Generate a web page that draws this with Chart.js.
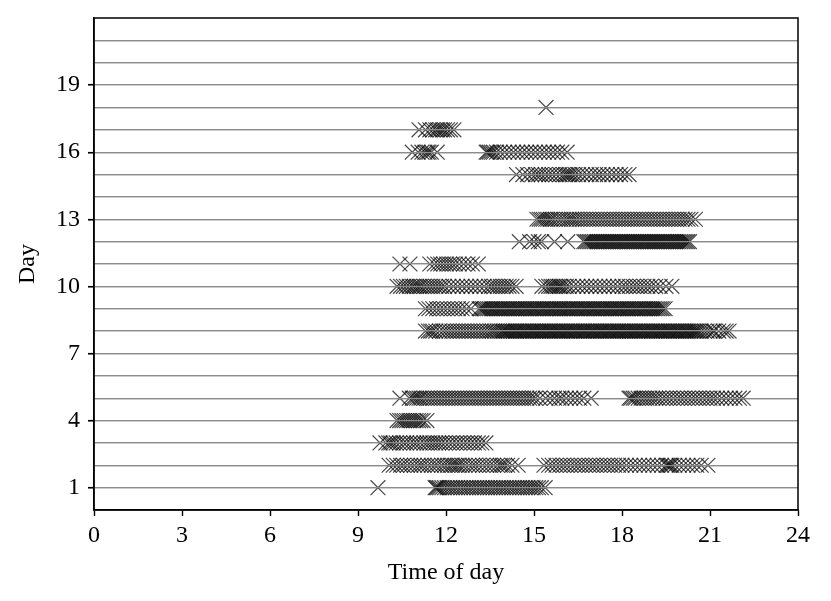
<!DOCTYPE html>
<html>
<head>
<meta charset="utf-8">
<script src="https://cdn.jsdelivr.net/npm/chart.js@4"></script>
<style>
  body { margin: 0; background: #fff; }
  canvas { display: block; }
</style>
</head>
<body>
<canvas id="myChart" width="831" height="601"></canvas>
<script>
// Datos: hora del día de cada registro, una lista por día
const day1 = [9.68, 11.63, 11.67, 11.72, 11.78, 11.86, 11.95, 12.04, 12.13, 12.22, 12.31, 12.4, 12.5, 12.59, 12.68, 12.77, 12.86, 12.95, 13.05, 13.14, 13.23, 13.32, 13.41, 13.5, 13.6, 13.69, 13.78, 13.87, 13.96, 14.05, 14.15, 14.24, 14.33, 14.42, 14.51, 14.6, 14.7, 14.79, 14.88, 14.97, 15.06, 15.15, 15.25, 15.38];
const day2 = [10.06, 10.2, 10.32, 10.45, 10.55, 10.68, 10.8, 10.92, 11.05, 11.15, 11.25, 11.38, 11.5, 11.62, 11.72, 11.85, 11.95, 12.05, 12.15, 12.22, 12.3, 12.38, 12.45, 12.55, 12.65, 12.78, 12.9, 13.0, 13.12, 13.25, 13.38, 13.5, 13.62, 13.75, 13.85, 13.92, 14.0, 14.1, 14.25, 14.46,
  15.34, 15.5, 15.62, 15.75, 15.88, 16.0, 16.12, 16.25, 16.38, 16.5, 16.62, 16.75, 16.88, 17.0, 17.12, 17.25, 17.38, 17.5, 17.62, 17.75, 17.88, 18.0, 18.15, 18.3, 18.45, 18.6, 18.75, 18.9, 19.05, 19.2, 19.35, 19.5, 19.55, 19.6, 19.65, 19.7, 19.8, 19.95, 20.1, 20.25, 20.4, 20.55, 20.7, 20.93];
const day3 = [9.75, 9.95, 10.05, 10.12, 10.2, 10.3, 10.42, 10.55, 10.65, 10.78, 10.9, 11.0, 11.12, 11.25, 11.35, 11.45, 11.55, 11.65, 11.75, 11.85, 11.97, 12.1, 12.22, 12.35, 12.47, 12.6, 12.72, 12.85, 12.97, 13.1, 13.22, 13.36];
const day4 = [10.33, 10.42, 10.5, 10.58, 10.66, 10.74, 10.82, 10.9, 10.98, 11.06, 11.14, 11.22, 11.35];
const day5 = [10.43, 10.75, 10.85, 10.92, 11.0, 11.08, 11.15, 11.25, 11.35, 11.45, 11.55, 11.65, 11.75, 11.85, 11.95, 12.05, 12.15, 12.25, 12.35, 12.45, 12.55, 12.65, 12.75, 12.85, 12.95, 13.05, 13.15, 13.25, 13.35, 13.45, 13.55, 13.65, 13.75, 13.85, 13.95, 14.05, 14.15, 14.25, 14.35, 14.45, 14.55, 14.65, 14.75, 14.85, 14.95, 15.05, 15.2, 15.4, 15.55, 15.7, 15.85, 15.95, 16.1, 16.25, 16.4, 16.55, 16.7, 16.95,
  18.24, 18.3, 18.38, 18.45, 18.55, 18.65, 18.75, 18.85, 18.95, 19.05, 19.15, 19.25, 19.38, 19.5, 19.62, 19.75, 19.88, 20.0, 20.12, 20.25, 20.38, 20.5, 20.62, 20.75, 20.88, 21.0, 21.12, 21.25, 21.4, 21.55, 21.7, 21.85, 22.0, 22.13];
const day8 = [11.3, 11.4, 11.48, 11.55, 11.65, 11.78, 11.9, 12.0, 12.1, 12.2, 12.3, 12.4, 12.5, 12.6, 12.7, 12.8, 12.9, 13.0, 13.1, 13.2, 13.3, 13.4, 13.5, 13.58, 13.66, 13.74, 13.82, 13.9,
  13.95, 14.01, 14.07, 14.12, 14.18, 14.24, 14.3, 14.36, 14.41, 14.47, 14.53, 14.59, 14.65, 14.7, 14.76, 14.82, 14.88, 14.94, 14.99, 15.05, 15.11, 15.17, 15.23, 15.28, 15.34, 15.4, 15.46, 15.52, 15.57, 15.63, 15.69, 15.75, 15.81, 15.86, 15.92, 15.98, 16.04, 16.1, 16.15, 16.21, 16.27, 16.33, 16.39, 16.44, 16.5, 16.56, 16.62, 16.68, 16.73, 16.79, 16.85, 16.91, 16.97, 17.02, 17.08, 17.14, 17.2, 17.26, 17.31, 17.37, 17.43, 17.49, 17.55, 17.6, 17.66, 17.72, 17.78, 17.84, 17.89, 17.95, 18.01, 18.07, 18.13, 18.18, 18.24, 18.3, 18.36, 18.42, 18.47, 18.53, 18.59, 18.65, 18.71, 18.76, 18.82, 18.88, 18.94, 19.0, 19.05, 19.11, 19.17, 19.23, 19.29, 19.34, 19.4, 19.46, 19.52, 19.58, 19.63, 19.69, 19.75, 19.81, 19.87, 19.92, 19.98, 20.04, 20.1, 20.16, 20.21, 20.27, 20.33, 20.39, 20.45, 20.5, 20.56, 20.62, 20.7,
  20.8, 20.9, 21.0, 21.1, 21.15, 21.3, 21.45, 21.55, 21.65];
const day9 = [11.3, 11.42, 11.55, 11.68, 11.8, 11.92, 12.05, 12.18, 12.3, 12.42, 12.55, 12.7, 12.85,
  13.13, 13.19, 13.25, 13.3, 13.36, 13.42, 13.48, 13.54, 13.59, 13.65, 13.71, 13.77, 13.83, 13.88, 13.94, 14.0, 14.06, 14.12, 14.17, 14.23, 14.29, 14.35, 14.41, 14.46, 14.52, 14.58, 14.64, 14.7, 14.75, 14.81, 14.87, 14.93, 14.99, 15.04, 15.1, 15.16, 15.22, 15.28, 15.33, 15.39, 15.45, 15.51, 15.57, 15.62, 15.68, 15.74, 15.8, 15.86, 15.91, 15.97, 16.03, 16.09, 16.15, 16.2, 16.26, 16.32, 16.38, 16.44, 16.49, 16.55, 16.61, 16.67, 16.73, 16.78, 16.84, 16.9, 16.96, 17.02, 17.07, 17.13, 17.19, 17.25, 17.31, 17.36, 17.42, 17.48, 17.54, 17.6, 17.65, 17.71, 17.77, 17.83, 17.89, 17.94, 18.0, 18.06, 18.12, 18.18, 18.23, 18.29, 18.35, 18.41, 18.47, 18.52, 18.58, 18.64, 18.7, 18.76, 18.81, 18.87, 18.93, 18.99, 19.05, 19.1, 19.16, 19.22, 19.28, 19.34, 19.4, 19.47];
const day10 = [10.33, 10.45, 10.55, 10.65, 10.75, 10.85, 10.92, 11.0, 11.08, 11.15, 11.25, 11.35, 11.45, 11.55, 11.65, 11.75, 11.85, 11.95, 12.1, 12.25, 12.4, 12.55, 12.7, 12.85, 13.0, 13.15, 13.3, 13.45, 13.55, 13.65, 13.75, 13.85, 13.95, 14.05, 14.15, 14.25, 14.39,
  15.27, 15.4, 15.5, 15.58, 15.65, 15.72, 15.8, 15.86, 15.92, 16.0, 16.1, 16.2, 16.35, 16.5, 16.65, 16.8, 16.95, 17.1, 17.25, 17.4, 17.55, 17.7, 17.85, 18.0, 18.12, 18.25, 18.38, 18.5, 18.62, 18.75, 18.88, 19.0, 19.15, 19.3, 19.5, 19.7];
const day11 = [10.43, 10.77, 11.45, 11.6, 11.72, 11.82, 11.92, 12.02, 12.12, 12.22, 12.32, 12.45, 12.6, 12.75, 12.9, 13.1];
const day12 = [14.5, 14.85, 15.0, 15.15, 15.25, 15.7, 16.15,
  16.7, 16.76, 16.82, 16.88, 16.94, 17.0, 17.06, 17.12, 17.18, 17.24, 17.3, 17.36, 17.42, 17.48, 17.54, 17.6, 17.66, 17.72, 17.78, 17.84, 17.9, 17.96, 18.02, 18.08, 18.14, 18.2, 18.26, 18.32, 18.38, 18.44, 18.5, 18.56, 18.62, 18.68, 18.74, 18.8, 18.86, 18.92, 18.98, 19.04, 19.1, 19.16, 19.22, 19.28, 19.34, 19.4, 19.46, 19.52, 19.58, 19.64, 19.7, 19.76, 19.82, 19.88, 19.94, 20.0, 20.06, 20.12, 20.18, 20.24, 20.3];
const day13 = [15.1, 15.18, 15.25, 15.32, 15.4, 15.47, 15.55, 15.62, 15.72, 15.82, 15.92, 16.02, 16.12, 16.2, 16.28, 16.36, 16.45, 16.55, 16.65, 16.75, 16.85, 16.95, 17.05, 17.15, 17.25, 17.35, 17.45, 17.55, 17.65, 17.75, 17.85, 17.95, 18.05, 18.15, 18.25, 18.35, 18.45, 18.55, 18.65, 18.75, 18.85, 18.95, 19.05, 19.15, 19.25, 19.35, 19.45, 19.55, 19.65, 19.75, 19.85, 19.95, 20.05, 20.15, 20.25, 20.35, 20.5];
const day15 = [14.4, 14.62, 14.78, 14.92, 15.05, 15.15, 15.25, 15.38, 15.5, 15.62, 15.75, 15.88, 16.0, 16.08, 16.15, 16.22, 16.3, 16.4, 16.52, 16.65, 16.8, 16.95, 17.1, 17.22, 17.35, 17.5, 17.65, 17.8, 17.95, 18.1, 18.24];
const day16 = [10.85, 11.05, 11.18, 11.28, 11.36, 11.42, 11.5, 11.7,
  13.37, 13.42, 13.48, 13.55, 13.62, 13.72, 13.85, 14.0, 14.15, 14.3, 14.45, 14.6, 14.75, 14.9, 15.05, 15.2, 15.35, 15.5, 15.65, 15.8, 15.95, 16.13];
const day17 = [11.08, 11.3, 11.45, 11.55, 11.65, 11.72, 11.8, 11.88, 11.95, 12.05, 12.15, 12.27];
const day18 = [15.41];

const days = [1, 2, 3, 4, 5, 8, 9, 10, 11, 12, 13, 15, 16, 17, 18];
const times = [day1, day2, day3, day4, day5, day8, day9, day10, day11, day12, day13, day15, day16, day17, day18];
const xTicks = [0, 3, 6, 9, 12, 15, 18, 21, 24];
const yTickLabels = [1, 4, 7, 10, 13, 16, 19];

const serif = "'Liberation Serif', 'Times New Roman', serif";

// un dataset por día
const datasets = days.map((d, i) => ({
    data: times[i].map(t => ({ x: t, y: d })),
    pointStyle: 'crossRot',
    pointRadius: 10.5,
    pointBorderWidth: 1.2,
    pointBorderColor: 'rgba(0,0,0,0.72)',
    pointBackgroundColor: 'rgba(0,0,0,0)',
    showLine: false
}));

// lineas de la grilla encima de los puntos y marco completo
const framePlugin = {
    id: 'frame',
    afterDatasetsDraw(chart) {
        chart.scales.y.drawGrid(chart.chartArea);
    },
    afterDraw(chart) {
        const a = chart.chartArea;
        const c = chart.ctx;
        c.save();
        c.strokeStyle = '#000';
        c.lineWidth = 1.5;
        c.strokeRect(a.left, a.top, a.right - a.left, a.bottom - a.top);
        c.restore();
    }
};

const chartDOM = document.getElementById("myChart");
window.grafica = new Chart(chartDOM, {
    type: 'scatter',
    data: { datasets: datasets },
    options: {
        responsive: false,
        animation: false,
        layout: { padding: { left: 0, top: 18, right: 33, bottom: 0 } },
        plugins: { legend: { display: false }, tooltip: { enabled: false } },
        scales: {
            x: {
                type: 'linear', min: 0, max: 24,
                afterBuildTicks: s => { s.ticks = xTicks.map(v => ({ value: v })); },
                ticks: { color: '#000', padding: 5, font: { family: serif, size: 24 } },
                grid: { drawOnChartArea: false, tickLength: 6, tickColor: '#000', tickWidth: 1.4 },
                border: { color: '#000', width: 1.5 },
                title: { display: true, text: 'Time of day', color: '#000', font: { family: serif, size: 24 }, padding: { top: 0, bottom: 14 } },
                afterFit: s => { s.height = 91; s.paddingLeft = 0; s.paddingRight = 0; }
            },
            y: {
                type: 'linear', min: 0, max: 22,
                ticks: {
                    stepSize: 1, autoSkip: false, color: '#000', padding: 8, font: { family: serif, size: 24 },
                    callback: v => yTickLabels.includes(v) ? String(v) : ''
                },
                grid: {
                    tickLength: 6,
                    lineWidth: 1.3,
                    tickWidth: 1.4,
                    color: c => (c.tick && c.tick.value > 0 && c.tick.value < 22) ? '#8c8c8c' : 'rgba(0,0,0,0)',
                    tickColor: c => (c.tick && yTickLabels.includes(c.tick.value)) ? '#000' : 'rgba(0,0,0,0)'
                },
                border: { color: '#000', width: 1.5 },
                title: { display: true, text: 'Day', color: '#000', font: { family: serif, size: 24 }, padding: { top: 13, bottom: 0 } },
                afterFit: s => { s.width = 94; s.paddingTop = 0; s.paddingBottom = 0; }
            }
        }
    },
    plugins: [framePlugin]
});
</script>
</body>
</html>
